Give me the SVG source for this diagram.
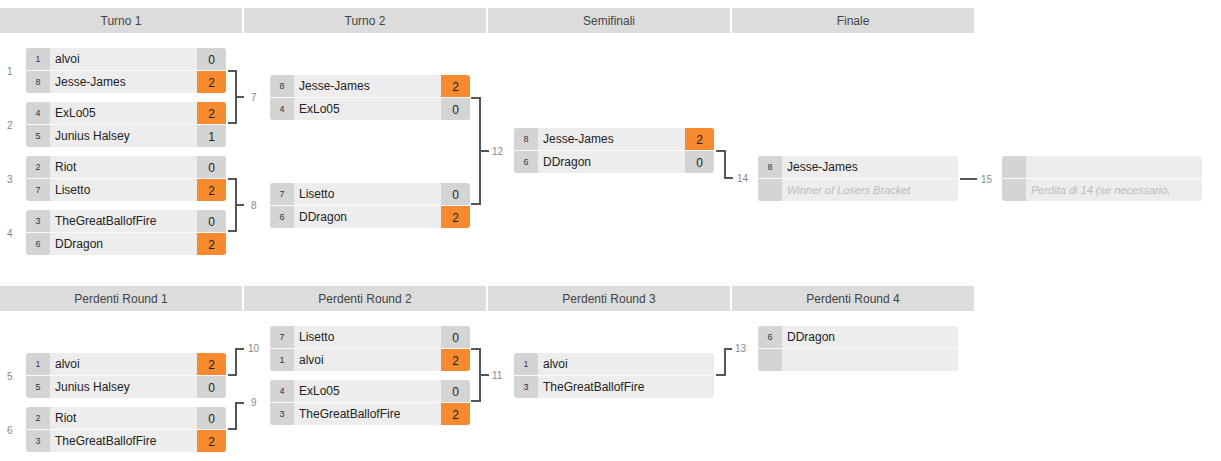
<svg xmlns="http://www.w3.org/2000/svg" width="1221" height="461" viewBox="0 0 1221 461">
<defs>
<clipPath id="mc"><rect width="200" height="45" rx="3"/></clipPath>
<style>
text{font-family:"Liberation Sans",Arial,Helvetica,sans-serif}
.hd{fill:#dcdcdc}
.ht{font-size:12px;fill:#444;text-anchor:middle}
.bg{fill:#ededed}
.sd{fill:#d4d4d4}
.los{fill:#d4d4d4}
.win{fill:#f7892f}
.sep{fill:#fafafa}
.st{font-size:9px;fill:#333;text-anchor:middle}
.nm{font-size:12px;fill:#222}
.scr{font-size:12px;fill:#222;text-anchor:middle}
.ml{font-size:10px;fill:#888}
.cn{fill:none;stroke:#555;stroke-width:2}
.ph{font-size:11px;font-style:italic;fill:#bbb}
</style>
</defs>
<rect width="1221" height="461" fill="#fff"/>
<g id="headers">
<rect class="hd" x="0" y="8" width="242" height="25"/><text class="ht" x="121" y="24.5">Turno 1</text>
<rect class="hd" x="244" y="8" width="242" height="25"/><text class="ht" x="365" y="24.5">Turno 2</text>
<rect class="hd" x="488" y="8" width="242" height="25"/><text class="ht" x="609" y="24.5">Semifinali</text>
<rect class="hd" x="732" y="8" width="242" height="25"/><text class="ht" x="853" y="24.5">Finale</text>
<rect class="hd" x="0" y="286" width="242" height="25"/><text class="ht" x="121" y="302.5">Perdenti Round 1</text>
<rect class="hd" x="244" y="286" width="242" height="25"/><text class="ht" x="365" y="302.5">Perdenti Round 2</text>
<rect class="hd" x="488" y="286" width="242" height="25"/><text class="ht" x="609" y="302.5">Perdenti Round 3</text>
<rect class="hd" x="732" y="286" width="242" height="25"/><text class="ht" x="853" y="302.5">Perdenti Round 4</text>
</g>
<g id="connectors">
<path class="cn" d="M228 71H236V123H228M236 97H244"/>
<path class="cn" d="M228 179H236V231H228M236 205H244"/>
<path class="cn" d="M471 98H480V204H471M480 151H489"/>
<path class="cn" d="M716 151H725V178H733"/>
<path class="cn" d="M960 179H977"/>
<path class="cn" d="M228 375H236V349H244"/>
<path class="cn" d="M228 429H236V403H244"/>
<path class="cn" d="M471 349H480V401H471M480 375H489"/>
<path class="cn" d="M716 375H725V349H732"/>
</g>
<g id="match-labels">
<text class="ml" x="7" y="75">1</text>
<text class="ml" x="7" y="129">2</text>
<text class="ml" x="7" y="183">3</text>
<text class="ml" x="7" y="237">4</text>
<text class="ml" x="251" y="101">7</text>
<text class="ml" x="251" y="209">8</text>
<text class="ml" x="492" y="155">12</text>
<text class="ml" x="737" y="182">14</text>
<text class="ml" x="981" y="183">15</text>
<text class="ml" x="7" y="380">5</text>
<text class="ml" x="7" y="434">6</text>
<text class="ml" x="248" y="352">10</text>
<text class="ml" x="251" y="406">9</text>
<text class="ml" x="492" y="379">11</text>
<text class="ml" x="735" y="352">13</text>
</g>
<g id="m1" transform="translate(26,48)">
<g clip-path="url(#mc)"><rect class="bg" width="200" height="45"/><rect class="sd" width="24" height="45"/><rect class="los" x="171" width="29" height="22"/><rect class="win" x="171" y="23" width="29" height="22"/><rect class="sep" y="22" width="200" height="1"/></g>
<text class="st" x="12" y="14">1</text><text class="nm" x="29" y="15">alvoi</text><text class="scr" x="185.5" y="15.5">0</text>
<text class="st" x="12" y="37">8</text><text class="nm" x="29" y="38">Jesse-James</text><text class="scr" x="185.5" y="38.5">2</text>
</g>
<g id="m2" transform="translate(26,102)">
<g clip-path="url(#mc)"><rect class="bg" width="200" height="45"/><rect class="sd" width="24" height="45"/><rect class="win" x="171" width="29" height="22"/><rect class="los" x="171" y="23" width="29" height="22"/><rect class="sep" y="22" width="200" height="1"/></g>
<text class="st" x="12" y="14">4</text><text class="nm" x="29" y="15">ExLo05</text><text class="scr" x="185.5" y="15.5">2</text>
<text class="st" x="12" y="37">5</text><text class="nm" x="29" y="38">Junius Halsey</text><text class="scr" x="185.5" y="38.5">1</text>
</g>
<g id="m3" transform="translate(26,156)">
<g clip-path="url(#mc)"><rect class="bg" width="200" height="45"/><rect class="sd" width="24" height="45"/><rect class="los" x="171" width="29" height="22"/><rect class="win" x="171" y="23" width="29" height="22"/><rect class="sep" y="22" width="200" height="1"/></g>
<text class="st" x="12" y="14">2</text><text class="nm" x="29" y="15">Riot</text><text class="scr" x="185.5" y="15.5">0</text>
<text class="st" x="12" y="37">7</text><text class="nm" x="29" y="38">Lisetto</text><text class="scr" x="185.5" y="38.5">2</text>
</g>
<g id="m4" transform="translate(26,210)">
<g clip-path="url(#mc)"><rect class="bg" width="200" height="45"/><rect class="sd" width="24" height="45"/><rect class="los" x="171" width="29" height="22"/><rect class="win" x="171" y="23" width="29" height="22"/><rect class="sep" y="22" width="200" height="1"/></g>
<text class="st" x="12" y="14">3</text><text class="nm" x="29" y="15">TheGreatBallofFire</text><text class="scr" x="185.5" y="15.5">0</text>
<text class="st" x="12" y="37">6</text><text class="nm" x="29" y="38">DDragon</text><text class="scr" x="185.5" y="38.5">2</text>
</g>
<g id="m7" transform="translate(270,75)">
<g clip-path="url(#mc)"><rect class="bg" width="200" height="45"/><rect class="sd" width="24" height="45"/><rect class="win" x="171" width="29" height="22"/><rect class="los" x="171" y="23" width="29" height="22"/><rect class="sep" y="22" width="200" height="1"/></g>
<text class="st" x="12" y="14">8</text><text class="nm" x="29" y="15">Jesse-James</text><text class="scr" x="185.5" y="15.5">2</text>
<text class="st" x="12" y="37">4</text><text class="nm" x="29" y="38">ExLo05</text><text class="scr" x="185.5" y="38.5">0</text>
</g>
<g id="m8" transform="translate(270,183)">
<g clip-path="url(#mc)"><rect class="bg" width="200" height="45"/><rect class="sd" width="24" height="45"/><rect class="los" x="171" width="29" height="22"/><rect class="win" x="171" y="23" width="29" height="22"/><rect class="sep" y="22" width="200" height="1"/></g>
<text class="st" x="12" y="14">7</text><text class="nm" x="29" y="15">Lisetto</text><text class="scr" x="185.5" y="15.5">0</text>
<text class="st" x="12" y="37">6</text><text class="nm" x="29" y="38">DDragon</text><text class="scr" x="185.5" y="38.5">2</text>
</g>
<g id="m12" transform="translate(514,128)">
<g clip-path="url(#mc)"><rect class="bg" width="200" height="45"/><rect class="sd" width="24" height="45"/><rect class="win" x="171" width="29" height="22"/><rect class="los" x="171" y="23" width="29" height="22"/><rect class="sep" y="22" width="200" height="1"/></g>
<text class="st" x="12" y="14">8</text><text class="nm" x="29" y="15">Jesse-James</text><text class="scr" x="185.5" y="15.5">2</text>
<text class="st" x="12" y="37">6</text><text class="nm" x="29" y="38">DDragon</text><text class="scr" x="185.5" y="38.5">0</text>
</g>
<g id="m14" transform="translate(758,156)">
<g clip-path="url(#mc)"><rect class="bg" width="200" height="45"/><rect class="sd" width="24" height="45"/><rect class="sep" y="22" width="200" height="1"/></g>
<text class="st" x="12" y="14">8</text><text class="nm" x="29" y="15">Jesse-James</text>
<text class="ph" x="29" y="38">Winner of Losers Bracket</text>
</g>
<g id="m15" transform="translate(1002,156)">
<g clip-path="url(#mc)"><rect class="bg" width="200" height="45"/><rect class="sd" width="24" height="45"/><rect class="sep" y="22" width="200" height="1"/></g>
<text class="ph" x="29" y="38">Perdita di 14 (se necessario,</text>
</g>
<g id="m5" transform="translate(26,353)">
<g clip-path="url(#mc)"><rect class="bg" width="200" height="45"/><rect class="sd" width="24" height="45"/><rect class="win" x="171" width="29" height="22"/><rect class="los" x="171" y="23" width="29" height="22"/><rect class="sep" y="22" width="200" height="1"/></g>
<text class="st" x="12" y="14">1</text><text class="nm" x="29" y="15">alvoi</text><text class="scr" x="185.5" y="15.5">2</text>
<text class="st" x="12" y="37">5</text><text class="nm" x="29" y="38">Junius Halsey</text><text class="scr" x="185.5" y="38.5">0</text>
</g>
<g id="m6" transform="translate(26,407)">
<g clip-path="url(#mc)"><rect class="bg" width="200" height="45"/><rect class="sd" width="24" height="45"/><rect class="los" x="171" width="29" height="22"/><rect class="win" x="171" y="23" width="29" height="22"/><rect class="sep" y="22" width="200" height="1"/></g>
<text class="st" x="12" y="14">2</text><text class="nm" x="29" y="15">Riot</text><text class="scr" x="185.5" y="15.5">0</text>
<text class="st" x="12" y="37">3</text><text class="nm" x="29" y="38">TheGreatBallofFire</text><text class="scr" x="185.5" y="38.5">2</text>
</g>
<g id="m10" transform="translate(270,326)">
<g clip-path="url(#mc)"><rect class="bg" width="200" height="45"/><rect class="sd" width="24" height="45"/><rect class="los" x="171" width="29" height="22"/><rect class="win" x="171" y="23" width="29" height="22"/><rect class="sep" y="22" width="200" height="1"/></g>
<text class="st" x="12" y="14">7</text><text class="nm" x="29" y="15">Lisetto</text><text class="scr" x="185.5" y="15.5">0</text>
<text class="st" x="12" y="37">1</text><text class="nm" x="29" y="38">alvoi</text><text class="scr" x="185.5" y="38.5">2</text>
</g>
<g id="m9" transform="translate(270,380)">
<g clip-path="url(#mc)"><rect class="bg" width="200" height="45"/><rect class="sd" width="24" height="45"/><rect class="los" x="171" width="29" height="22"/><rect class="win" x="171" y="23" width="29" height="22"/><rect class="sep" y="22" width="200" height="1"/></g>
<text class="st" x="12" y="14">4</text><text class="nm" x="29" y="15">ExLo05</text><text class="scr" x="185.5" y="15.5">0</text>
<text class="st" x="12" y="37">3</text><text class="nm" x="29" y="38">TheGreatBallofFire</text><text class="scr" x="185.5" y="38.5">2</text>
</g>
<g id="m11" transform="translate(514,353)">
<g clip-path="url(#mc)"><rect class="bg" width="200" height="45"/><rect class="sd" width="24" height="45"/><rect class="sep" y="22" width="200" height="1"/></g>
<text class="st" x="12" y="14">1</text><text class="nm" x="29" y="15">alvoi</text>
<text class="st" x="12" y="37">3</text><text class="nm" x="29" y="38">TheGreatBallofFire</text>
</g>
<g id="m13" transform="translate(758,326)">
<g clip-path="url(#mc)"><rect class="bg" width="200" height="45"/><rect class="sd" width="24" height="45"/><rect class="sep" y="22" width="200" height="1"/></g>
<text class="st" x="12" y="14">6</text><text class="nm" x="29" y="15">DDragon</text>
</g>
</svg>
